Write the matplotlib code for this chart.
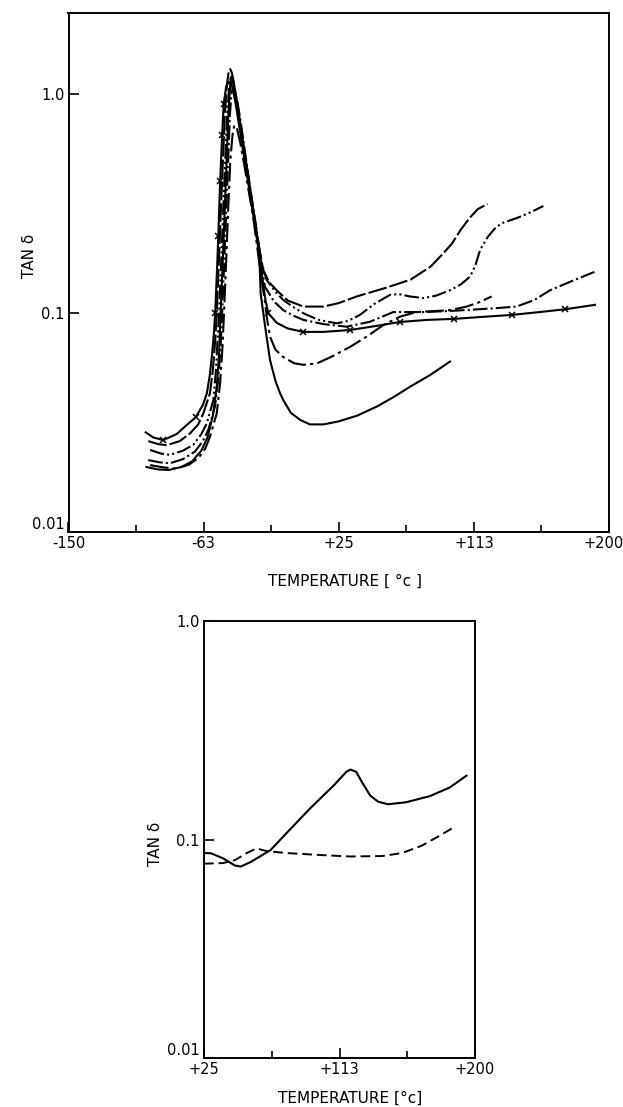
import matplotlib
matplotlib.use("Agg")
import matplotlib.pyplot as plt
import matplotlib.transforms as mtransforms
from matplotlib.ticker import NullLocator, FixedLocator

plt.rcParams['font.family'] = ['DejaVu Sans']

# ---------------- top panel data (temperature in °C, tan delta) ----------------
cx_T = [-100, -95, -88.6, -80, -73, -67.5, -63, -60.4, -58.5, -57, -55.9, -55, -53.8, -53, -51.8,
        -50.5, -49.5, -48, -46.5, -45, -43.5, -41.5, -39, -36, -33, -30, -27, -24.5, -22.5, -20.6,
        -15, -8, 2, 15, 32, 48, 64.6, 82, 99.6, 118, 137, 155, 171.5, 191]
cx_tan = [0.0285, 0.027, 0.0263, 0.028, 0.031, 0.0335, 0.038, 0.043, 0.052, 0.065, 0.08, 0.1, 0.16, 0.224, 0.4,
          0.65, 0.9, 1.07, 1.14, 1.13, 1.05, 0.88, 0.68, 0.5, 0.37, 0.27, 0.195, 0.145, 0.115, 0.0997,
          0.09, 0.085, 0.082, 0.082, 0.0836, 0.087, 0.091, 0.093, 0.094, 0.096, 0.098, 0.101, 0.104, 0.109]
cx_marked = [2, 5, 11, 13, 14, 15, 16, 29, 32, 34, 36, 38, 40, 42]

a_T = [-98.3, -92, -86.4, -78, -71.3, -66, -62.7, -58.4, -56.5, -55, -54, -52.5, -51.3, -50, -48.8,
       -47.5, -46.2, -45.3, -44.2, -42.5, -40.5, -38, -35, -32, -29, -26, -23.9, -20, -15.2, -8,
       2.1, 15, 25, 36.6, 55, 71.5, 84.5, 92, 98.2, 104, 109.8, 115, 121.4]
a_tan = [0.026, 0.0252, 0.0249, 0.026, 0.0282, 0.031, 0.0348, 0.043, 0.055, 0.075, 0.1, 0.18, 0.3, 0.5, 0.8,
         1.1, 1.27, 1.3, 1.25, 1.08, 0.85, 0.65, 0.47, 0.34, 0.25, 0.19, 0.157, 0.138, 0.127, 0.114,
         0.107, 0.107, 0.111, 0.119, 0.13, 0.142, 0.163, 0.185, 0.207, 0.24, 0.272, 0.298, 0.315]

b_T = [-97.2, -90, -84.3, -76, -69.2, -64, -60.5, -56.2, -54.5, -53.5, -52.5, -51, -49.8, -48.5, -47.3,
       -46.1, -45, -43.7, -42, -39.7, -37.2, -34.2, -31.2, -28.3, -25.5, -21.7, -16, -10.9, -4, 2.1,
       12, 23.7, 31, 38.7, 48, 58.2, 64, 71.1, 79.7, 88, 97, 104, 110, 113.5, 116.5, 121.4, 126,
       130.4, 140.7, 149, 157.5]
b_tan = [0.0237, 0.0228, 0.0225, 0.0235, 0.025, 0.028, 0.0313, 0.040, 0.055, 0.075, 0.1, 0.18, 0.3, 0.5, 0.8,
         1.05, 1.2, 1.15, 1.0, 0.8, 0.6, 0.43, 0.31, 0.23, 0.175, 0.1415, 0.125, 0.1146, 0.106, 0.0997,
         0.093, 0.0897, 0.092, 0.098, 0.11, 0.121, 0.122, 0.119, 0.117, 0.12, 0.127, 0.135, 0.1465, 0.165, 0.194, 0.222, 0.243,
         0.257, 0.272, 0.288, 0.308]

e_T = [-98.3, -91, -84.3, -76, -68.1, -63, -59.5, -55.2, -53, -51.5, -50.5, -49, -47.8, -46.6, -45.5,
       -44.5, -43.5, -42.3, -40.6, -38.4, -36, -33.2, -30.3, -27.4, -25, -22.8, -17, -10.9, -4, 2.1,
       15, 30.1, 45.2, 60.3, 79.7, 95, 105.6, 125, 140.2, 152, 161.8, 176, 191]
e_tan = [0.0213, 0.0208, 0.0206, 0.0215, 0.0233, 0.026, 0.0292, 0.0373, 0.05, 0.07, 0.1, 0.18, 0.3, 0.5, 0.8,
         1.0, 1.08, 1.04, 0.92, 0.74, 0.56, 0.41, 0.3, 0.22, 0.165, 0.132, 0.113, 0.103, 0.097, 0.093,
         0.089, 0.0866, 0.0912, 0.101, 0.101, 0.102, 0.103, 0.105, 0.107, 0.115, 0.127, 0.14, 0.1545]

d_T = [-97.2, -88, -80, -72, -66, -61.5, -58.4, -54, -51.8, -50.3, -49.3, -47.8, -46.6, -45.2, -43.8,
       -42.8, -42, -40.8, -38.8, -36.3, -33.3, -30.3, -27.8, -25.5, -23, -21, -19.5, -16, -11, -4, 2,
       10.7, 20, 32.3, 43, 53.8, 64.6, 75.4, 86, 97, 107.8, 116, 124]
d_tan = [0.0202, 0.0197, 0.0195, 0.0203, 0.0217, 0.024, 0.0272, 0.0348, 0.048, 0.07, 0.1, 0.18, 0.3, 0.5, 0.65,
         0.71, 0.72, 0.69, 0.6, 0.48, 0.36, 0.27, 0.2, 0.15, 0.115, 0.09, 0.078, 0.068, 0.063, 0.059, 0.058,
         0.0588, 0.063, 0.070, 0.078, 0.088, 0.0962, 0.101, 0.102, 0.103, 0.107, 0.112, 0.119]

s_T = [-99.5, -92, -85, -77, -70, -64, -60, -56.5, -54, -52.5, -51.5, -50, -48.8, -47.6, -46.5,
       -45.5, -44.6, -43.6, -42.2, -40, -37.5, -34.6, -31.6, -28.7, -26.5, -25.6, -23, -21, -19.5, -16,
       -13, -10.9, -6, 0, 6.3, 15, 25, 37, 50, 61, 71, 84, 97]
s_tan = [0.0198, 0.0193, 0.0192, 0.0198, 0.021, 0.0235, 0.027, 0.034, 0.046, 0.065, 0.1, 0.18, 0.3, 0.5, 0.8,
         1.05, 1.2, 1.18, 1.04, 0.84, 0.64, 0.47, 0.34, 0.25, 0.19, 0.123, 0.09, 0.072, 0.061, 0.049,
         0.043, 0.040, 0.035, 0.0325, 0.031, 0.031, 0.032, 0.034, 0.0375, 0.0415, 0.046, 0.052, 0.06]

# ---------------- bottom panel data ----------------
sol_T = [25, 29.5, 37.3, 45, 48.8, 55.2, 68, 78.3, 93.6, 109.2, 116.9, 119.5, 123.3, 127.2, 132.3,
         137.4, 143.8, 155.4, 170.9, 183.7, 194.5]
sol_tan = [0.0867, 0.0865, 0.082, 0.076, 0.0752, 0.0789, 0.0895, 0.107, 0.139, 0.178, 0.204, 0.209, 0.204,
           0.182, 0.159, 0.149, 0.145, 0.148, 0.158, 0.173, 0.196]
dash_T = [25, 37.3, 45, 52.6, 59, 65.5, 78.3, 98.9, 119.5, 140, 152.8, 165.7, 176, 187.5]
dash_tan = [0.0775, 0.078, 0.0805, 0.0867, 0.091, 0.0885, 0.0867, 0.085, 0.0836, 0.084, 0.0867, 0.0937,
            0.103, 0.115]

top_xticks = [-150, -62.5, 25, 112.5, 200]
top_xlabels = ['-150', '-63', '+25', '+113', '+200']
top_xminor = [-106.25, -18.75, 68.75, 156.25]
bot_xticks = [25, 112.5, 200]
bot_xlabels = ['+25', '+113', '+200']
bot_xminor = [68.75, 156.25]
yticks = [0.01, 0.1, 1.0]
ylabels = ['0.01', '0.1', '1.0']

W, H = 623, 1107
fig = plt.figure(figsize=(W / 100, H / 100), dpi=100)

def frac(x0, y0, x1, y1):
    return [x0 / W, 1 - y1 / H, (x1 - x0) / W, (y1 - y0) / H]

ax1 = fig.add_axes(frac(68.5, 13, 609, 532))
ax2 = fig.add_axes(frac(204, 621, 475, 1058))

k = dict(color='black', lw=1.5)
ax1.plot(s_T, s_tan, linestyle='-', **k)
ax1.plot(d_T, d_tan, dashes=(9, 2, 1.5, 2), **k)
ax1.plot(e_T, e_tan, dashes=(7, 1.5, 1, 1.5), **k)
ax1.plot(b_T, b_tan, dashes=(7, 1.5, 1, 1.5, 1, 1.5), **k)
ax1.plot(a_T, a_tan, dashes=(9, 1.5), **k)
ax1.plot(cx_T, cx_tan, linestyle='-', marker='x', markevery=cx_marked, ms=4.5, mew=1.1, **k)

ax2.plot(sol_T, sol_tan, linestyle='-', color='black', lw=1.5)
ax2.plot(dash_T, dash_tan, dashes=(5, 2.5), color='black', lw=1.4)

for ax in (ax1, ax2):
    ax.set_yscale('log')
    for s in ax.spines.values():
        s.set_linewidth(1.4)
    ax.yaxis.set_minor_locator(NullLocator())
    ax.set_yticks(yticks)
    ax.set_yticklabels(ylabels)
    ax.tick_params(axis='both', which='major', direction='in', length=7, width=1.2,
                   labelsize=10.5, pad=3)
    ax.tick_params(axis='x', which='minor', direction='in', length=5, width=1.2)

ax1.set_xlim(-150, 200)
ax1.set_ylim(0.01, 2.344)
ax1.set_xticks(top_xticks)
ax1.set_xticklabels(top_xlabels)
ax1.xaxis.set_minor_locator(FixedLocator(top_xminor))

ax2.set_xlim(25, 200)
ax2.set_ylim(0.01, 1.0)
ax2.set_xticks(bot_xticks)
ax2.set_xticklabels(bot_xlabels)
ax2.xaxis.set_minor_locator(FixedLocator(bot_xminor))

fig.canvas.draw()
for ax in (ax1, ax2):
    ax.get_yticklabels()[0].set_va('bottom')
last = ax1.get_xticklabels()[-1]
last.set_transform(last.get_transform() + mtransforms.ScaledTranslation(-5 / 100, 0, fig.dpi_scale_trans))

fig.text(30 / W, 1 - 256 / H, 'TAN δ', rotation=90, ha='center', va='center', fontsize=11)
fig.text(345 / W, 1 - 581 / H, 'TEMPERATURE [ °c ]', ha='center', va='center', fontsize=11)
fig.text(155 / W, 1 - 844 / H, 'TAN δ', rotation=90, ha='center', va='center', fontsize=11)
fig.text(350 / W, 1 - 1098 / H, 'TEMPERATURE [°c]', ha='center', va='center', fontsize=11)

fig.savefig('out.png', dpi=100)
